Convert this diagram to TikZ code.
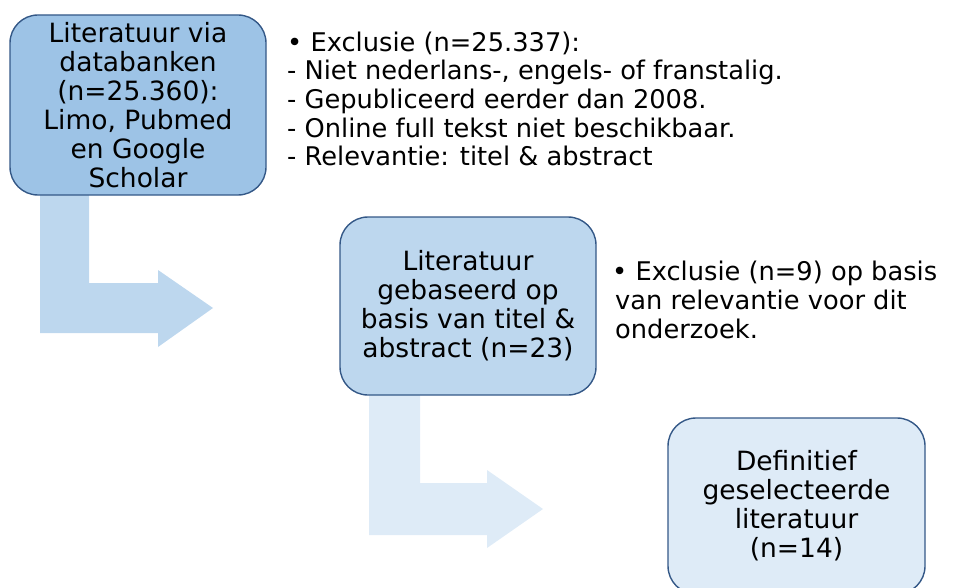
\documentclass[tikz,border=0pt]{standalone}
\usepackage{fontspec}
\setmainfont{DejaVu Sans}
\definecolor{boxA}{RGB}{157,195,230}
\definecolor{boxB}{RGB}{189,215,238}
\definecolor{boxC}{RGB}{222,235,247}
\definecolor{edge}{RGB}{52,88,135}
\begin{document}
\begin{tikzpicture}[x=1pt,y=-1pt,
  stagebox/.style={draw=edge,line width=1.4pt,rounded corners=28pt,align=center,
    font=\fontsize{26.5}{29}\selectfont,inner sep=0pt},
  note/.style={align=left,font=\fontsize{25.7}{28.7}\selectfont,inner sep=0pt,anchor=base west}]
\useasboundingbox (0,0) rectangle (957,588);
% bent arrows
\fill[boxB] (40,195) -- (89,195) -- (89,283) -- (158,283) -- (158,270) -- (213,308)
  -- (158,347) -- (158,333) -- (40,333) -- cycle;
\fill[boxC] (369,395) -- (420,395) -- (420,483) -- (487,483) -- (487,470) -- (543,509)
  -- (487,548) -- (487,535) -- (369,535) -- cycle;
% boxes
\node[stagebox,fill=boxA,minimum width=256pt,minimum height=180pt] (s1) at (138,105)
  {Literatuur via\\databanken\\(n=25.360):\\Limo, Pubmed\\en Google\\Scholar};
\node[stagebox,fill=boxB,minimum width=256pt,minimum height=178pt] (s2) at (468,306)
  {Literatuur\\gebaseerd op\\basis van titel \&\\abstract (n=23)};
\node[stagebox,fill=boxC,minimum width=257pt,minimum height=176pt] (s3) at (796.5,506)
  {Definitief\\geselecteerde\\literatuur\\(n=14)};
% notes
\node[note] (n1) at (287,166)
  {• Exclusie (n=25.337):\\- Niet nederlans-, engels- of franstalig.\\- Gepubliceerd eerder dan 2008.\\- Online full tekst niet beschikbaar.\\- Relevantie: titel \& abstract};
\node[note] (n2) at (612,338)
  {• Exclusie (n=9) op basis\\\hspace*{3pt}van relevantie voor dit\\\hspace*{3pt}onderzoek.};
\end{tikzpicture}
\end{document}
